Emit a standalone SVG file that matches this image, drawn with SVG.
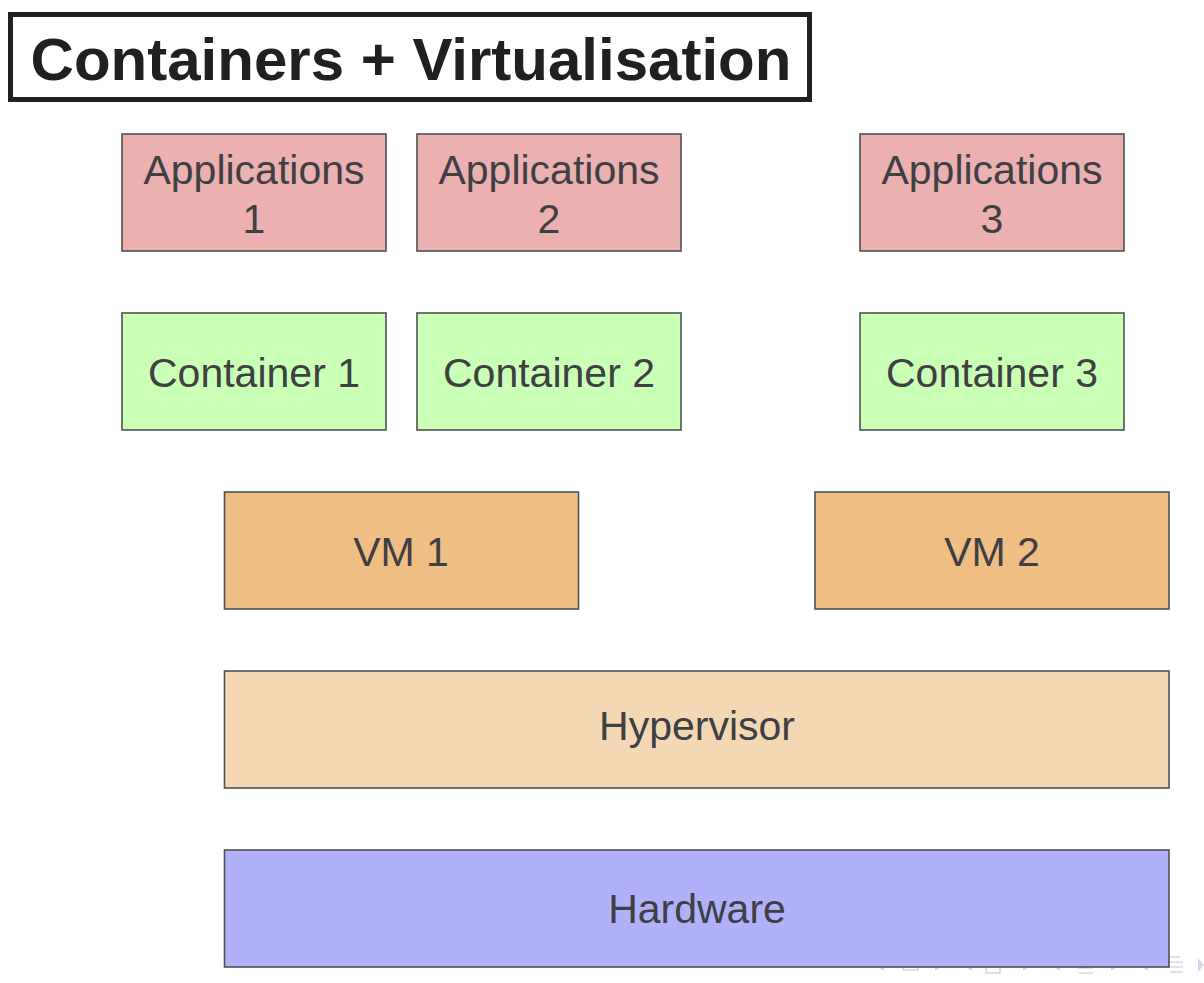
<svg xmlns="http://www.w3.org/2000/svg" width="1204" height="983" viewBox="0 0 1204 983">
<style>
.box{stroke:#505050;stroke-width:1.6}
.lbl{font-family:"Liberation Sans",Arial,sans-serif;font-size:41px;fill:#3f4044;text-anchor:middle}
.app{fill:#ebb0b0}
.ctr{fill:#caffb6}
.vm{fill:#efbe84}
.hyp{fill:#f4d8b4}
.hw{fill:#b1b1fa}
.nav{fill:none;stroke:#d6d6f2;stroke-width:1.6}
.navf{fill:#d6d6f2}
</style>
<rect width="1204" height="983" fill="#ffffff"/>
<g id="title">
<rect x="10.5" y="14.5" width="799" height="85" fill="#ffffff" stroke="#202020" stroke-width="5"/>
<text x="411" y="80" font-family="Liberation Sans,Arial,sans-serif" font-weight="bold" font-size="60" fill="#202020" text-anchor="middle">Containers + Virtualisation</text>
</g>
<g id="nav">
<path class="navf" d="M884 962 L877 966.5 L884 971 Z"/>
<rect class="nav" x="903" y="962" width="15" height="8"/>
<path class="navf" d="M935 962 L942 966.5 L935 971 Z"/>
<path class="navf" d="M972 962 L965 966.5 L972 971 Z"/>
<rect class="nav" x="986" y="962" width="14" height="11"/>
<path class="navf" d="M1023 962 L1030 966.5 L1023 971 Z"/>
<path class="navf" d="M1060 962 L1053 966.5 L1060 971 Z"/>
<path class="nav" d="M1077 968 H1093 M1079 973 H1093"/>
<path class="navf" d="M1111 962 L1118 966.5 L1111 971 Z"/>
<path class="navf" d="M1148 962 L1141 966.5 L1148 971 Z"/>
<path class="nav" d="M1168 957 H1180 M1168 962 H1183 M1168 967 H1183 M1170 972 H1183"/>
<path class="navf" d="M1198 958 L1204 965 L1198 972 Z"/>
</g>
<g id="app1">
<rect class="box app" x="122" y="134" width="264" height="117"/>
<text class="lbl" x="254" y="184">Applications</text>
<text class="lbl" x="254" y="233">1</text>
</g>
<g id="app2">
<rect class="box app" x="417" y="134" width="264" height="117"/>
<text class="lbl" x="549" y="184">Applications</text>
<text class="lbl" x="549" y="233">2</text>
</g>
<g id="app3">
<rect class="box app" x="860" y="134" width="264" height="117"/>
<text class="lbl" x="992" y="184">Applications</text>
<text class="lbl" x="992" y="233">3</text>
</g>
<g id="container1">
<rect class="box ctr" x="122" y="313" width="264" height="117"/>
<text class="lbl" x="254" y="387">Container 1</text>
</g>
<g id="container2">
<rect class="box ctr" x="417" y="313" width="264" height="117"/>
<text class="lbl" x="549" y="387">Container 2</text>
</g>
<g id="container3">
<rect class="box ctr" x="860" y="313" width="264" height="117"/>
<text class="lbl" x="992" y="387">Container 3</text>
</g>
<g id="vm1">
<rect class="box vm" x="224.5" y="492" width="354" height="117"/>
<text class="lbl" x="401" y="566">VM 1</text>
</g>
<g id="vm2">
<rect class="box vm" x="815" y="492" width="354" height="117"/>
<text class="lbl" x="992" y="566">VM 2</text>
</g>
<g id="hypervisor">
<rect class="box hyp" x="224.5" y="671" width="944.5" height="117"/>
<text class="lbl" x="697" y="740">Hypervisor</text>
</g>
<g id="hardware">
<rect class="box hw" x="224.5" y="850" width="944.5" height="117"/>
<text class="lbl" x="697" y="923">Hardware</text>
</g>
<g id="connectors"></g>
</svg>
